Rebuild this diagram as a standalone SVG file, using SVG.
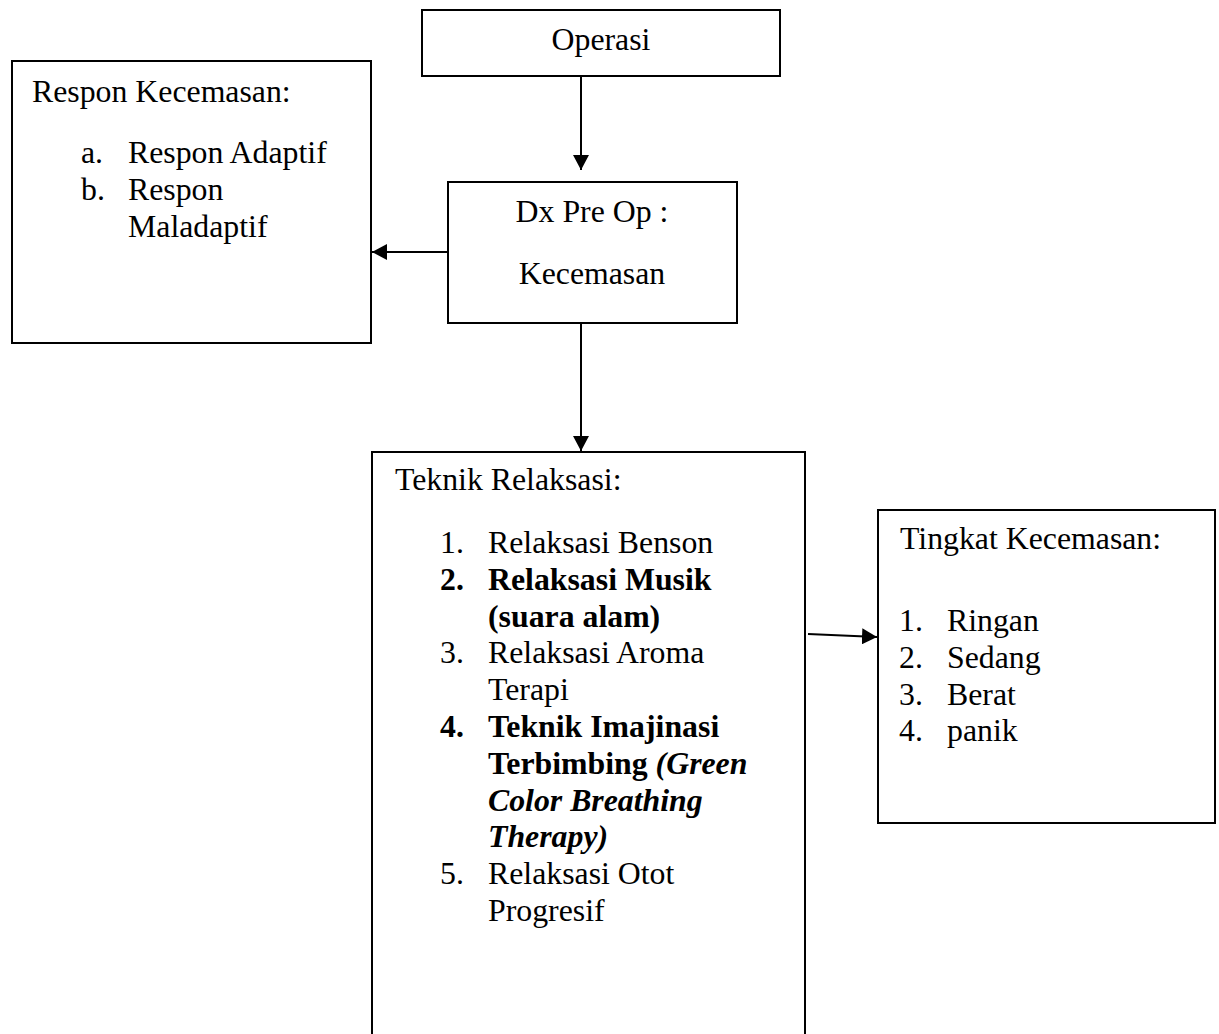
<svg xmlns="http://www.w3.org/2000/svg" width="1219" height="1034" viewBox="0 0 1219 1034">
<style>
.box{fill:#fff;stroke:#000;stroke-width:2}
.t{font-family:"Liberation Serif","Times New Roman",serif;font-size:31.8px;fill:#000}
.c{text-anchor:middle}
.b{font-weight:bold}
.bi{font-weight:bold;font-style:italic}
.ln{stroke:#000;stroke-width:2;fill:none}
</style>
<defs>
<marker id="arr" viewBox="0 0 15 16" refX="15" refY="8" markerWidth="15" markerHeight="16" orient="auto" markerUnits="userSpaceOnUse">
<path d="M0,0 L15,8 L0,16 Z" fill="#000"/>
</marker>
</defs>
<rect width="1219" height="1034" fill="#fff"/>
<g id="connectors">
<line class="ln" x1="581" y1="76" x2="581" y2="170" marker-end="url(#arr)"/>
<line class="ln" x1="448" y1="252" x2="372" y2="252" marker-end="url(#arr)"/>
<line class="ln" x1="581" y1="323" x2="581" y2="451" marker-end="url(#arr)"/>
<line class="ln" x1="808" y1="634" x2="877" y2="637" marker-end="url(#arr)"/>
</g>
<g id="operasi">
<rect class="box" x="422" y="10" width="358" height="66"/>
<text class="t c" x="601" y="50">Operasi</text>
</g>
<g id="respon">
<rect class="box" x="12" y="61" width="359" height="282"/>
<text class="t" x="32" y="102">Respon Kecemasan:</text>
<text class="t" x="81" y="163">a.</text>
<text class="t" x="128" y="163">Respon Adaptif</text>
<text class="t" x="81" y="200">b.</text>
<text class="t" x="128" y="200">Respon</text>
<text class="t" x="128" y="237">Maladaptif</text>
</g>
<g id="dx">
<rect class="box" x="448" y="182" width="289" height="141"/>
<text class="t c" x="592" y="222">Dx Pre Op :</text>
<text class="t c" x="592" y="284">Kecemasan</text>
</g>
<g id="teknik">
<path class="ln" d="M372,1034 L372,452 L805,452 L805,1034"/>
<text class="t" x="395" y="490">Teknik Relaksasi:</text>
<text class="t" x="440" y="553">1.</text>
<text class="t" x="488" y="553">Relaksasi Benson</text>
<text class="t b" x="440" y="590">2.</text>
<text class="t b" x="488" y="590">Relaksasi Musik</text>
<text class="t b" x="488" y="627">(suara alam)</text>
<text class="t" x="440" y="663">3.</text>
<text class="t" x="488" y="663">Relaksasi Aroma</text>
<text class="t" x="488" y="700">Terapi</text>
<text class="t b" x="440" y="737">4.</text>
<text class="t b" x="488" y="737">Teknik Imajinasi</text>
<text class="t b" x="488" y="774">Terbimbing <tspan class="bi">(Green</tspan></text>
<text class="t bi" x="488" y="811">Color Breathing</text>
<text class="t bi" x="488" y="847">Therapy)</text>
<text class="t" x="440" y="884">5.</text>
<text class="t" x="488" y="884">Relaksasi Otot</text>
<text class="t" x="488" y="921">Progresif</text>
</g>
<g id="tingkat">
<rect class="box" x="878" y="510" width="337" height="313"/>
<text class="t" x="900" y="549">Tingkat Kecemasan:</text>
<text class="t" x="899" y="631">1.</text>
<text class="t" x="947" y="631">Ringan</text>
<text class="t" x="899" y="668">2.</text>
<text class="t" x="947" y="668">Sedang</text>
<text class="t" x="899" y="705">3.</text>
<text class="t" x="947" y="705">Berat</text>
<text class="t" x="899" y="741">4.</text>
<text class="t" x="947" y="741">panik</text>
</g>
</svg>
